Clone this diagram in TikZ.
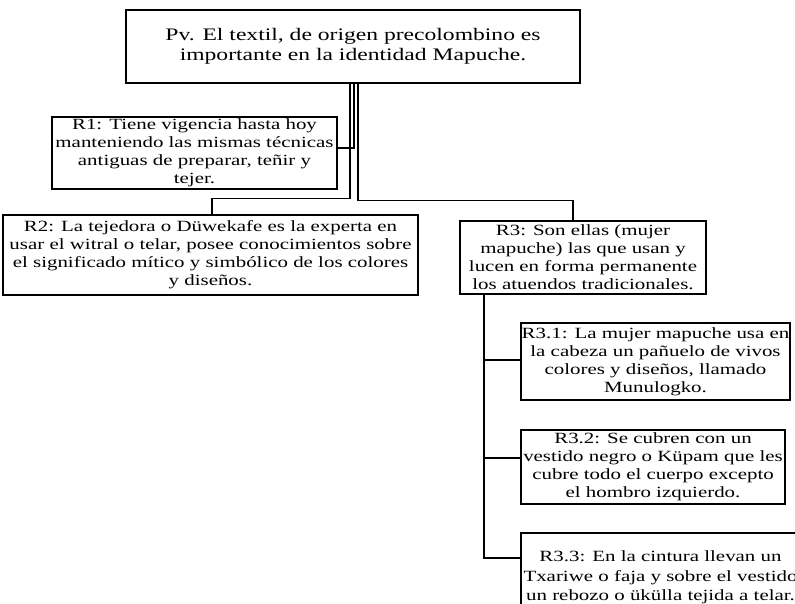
\documentclass[tikz,border=0pt]{standalone}
\usepackage{fontspec}
\setmainfont{Liberation Serif}[FakeStretch=1.34]
\begin{document}
\begin{tikzpicture}[x=1pt,y=-1pt,
  box/.style={draw=black,line width=1.4pt,fill=white,inner sep=0pt,align=center,
    font=\fontsize{15.6}{18}\selectfont},
  conn/.style={draw=black,line width=1.1pt}]
\useasboundingbox (0,0) rectangle (795,604);
\clip (0,0) rectangle (795,604);
\node[box,minimum width=454pt,minimum height=73pt,font=\fontsize{17.6}{20}\selectfont] (pv) at (353,46.5)
  {Pv. El textil, de origen precolombino es\\importante en la identidad Mapuche.};
\node[box,minimum width=285pt,minimum height=72pt] (r1) at (194.5,153)
  {R1: Tiene vigencia hasta hoy\\manteniendo las mismas técnicas\\antiguas de preparar, teñir y\\tejer.};
\node[box,minimum width=415pt,minimum height=80pt] (r2) at (210.5,255)
  {R2: La tejedora o Düwekafe es la experta en\\usar el witral o telar, posee conocimientos sobre\\el significado mítico y simbólico de los colores\\y diseños.};
\node[box,minimum width=246pt,minimum height=73pt] (r3) at (583,257.5)
  {R3: Son ellas (mujer\\mapuche) las que usan y\\lucen en forma permanente\\los atuendos tradicionales.};
\node[box,minimum width=269pt,minimum height=77pt] (r31) at (655.5,361.5)
  {R3.1: La mujer mapuche usa en\\la cabeza un pañuelo de vivos\\colores y diseños, llamado\\Munulogko.};
\node[box,minimum width=264pt,minimum height=74pt] (r32) at (653,467)
  {R3.2: Se cubren con un\\vestido negro o Küpam que les\\cubre todo el cuerpo excepto\\el hombro izquierdo.};
\node[box,minimum width=279pt,minimum height=89pt,font=\fontsize{15.6}{19.5}\selectfont] (r33) at (660.5,577.5)
  {R3.3: En la cintura llevan un\\Txariwe o faja y sobre el vestido\\un rebozo o ükülla tejida a telar.};
% connectors from the top box
\draw[conn] ([xshift=-3pt]pv.south) -- ++(0,115) -| ([xshift=1.5pt]r2.north);
\draw[conn] ([xshift=1pt]pv.south) |- ([yshift=5pt]r1.east);
\draw[conn] ([xshift=5pt]pv.south) -- ++(0,117) -| ([xshift=-10pt]r3.north);
% connectors from R3
\draw[conn] ([xshift=-99pt]r3.south) |- ([yshift=1.5pt]r31.west);
\draw[conn] ([xshift=-99pt]r3.south) |- ([yshift=9pt]r32.west);
\draw[conn] ([xshift=-99pt]r3.south) |- ([yshift=19.5pt]r33.west);
\end{tikzpicture}
\end{document}
